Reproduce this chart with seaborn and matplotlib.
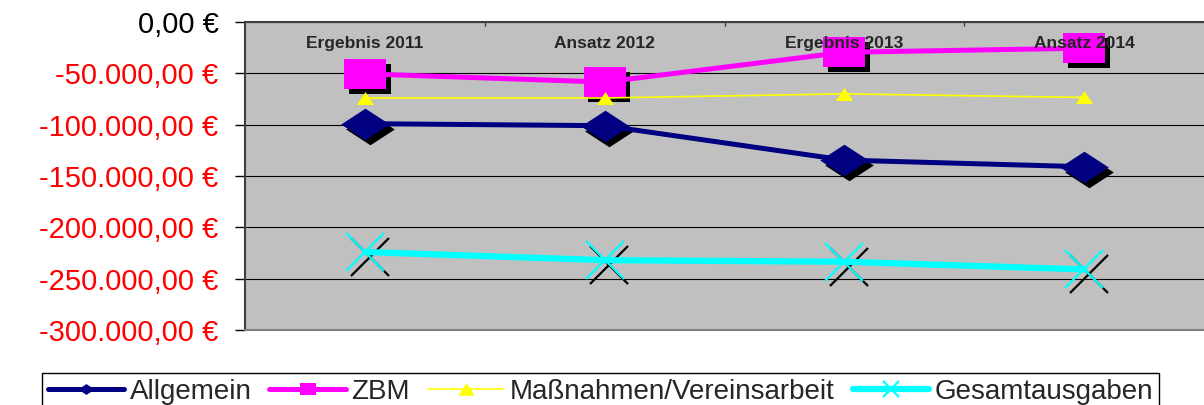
import numpy as np
import matplotlib
matplotlib.use("Agg")
import matplotlib.pyplot as plt
import matplotlib.transforms as mtransforms
import seaborn as sns

# Daten
kategorien = ["Ergebnis 2011", "Ansatz 2012", "Ergebnis 2013", "Ansatz 2014"]
allgemein = [-99000, -101000, -134500, -141000]
zbm = [-50500, -58500, -29500, -25500]
massnahmen = [-74000, -74000, -70000, -73500]
gesamtausgaben = [-224000, -232000, -233500, -241000]

y_ticks = [0, -50000, -100000, -150000, -200000, -250000, -300000]

sns.set_theme(style="white")
plt.rcParams["font.family"] = ["Liberation Sans", "DejaVu Sans"]

fig = plt.figure(figsize=(12.04, 4.05), dpi=100)
ax = fig.add_axes([245 / 1204, 1 - 330 / 405, 1 - 245 / 1204, 308 / 405])
ax.set_facecolor("#C0C0C0")

# Marker-Formen (breiter als hoch wie im Original)
raute = [(-1, 0), (0, 0.65), (1, 0), (0, -0.65), (-1, 0)]
quadrat = [(-1, -0.74), (1, -0.74), (1, 0.74), (-1, 0.74), (-1, -0.74)]
dreieck = [(-1, -0.75), (1, -0.75), (0, 0.75), (-1, -0.75)]

serien = [
    ("Allgemein", allgemein, "#000080", 3.6, raute, 35, True),
    ("ZBM", zbm, "#FF00FF", 3.6, quadrat, 30, True),
    ("Maßnahmen/Vereinsarbeit", massnahmen, "#FFFF00", 1.2, dreieck, 12.5, False),
    ("Gesamtausgaben", gesamtausgaben, "#00FFFF", 4.5, "x", 27, True),
]

# Schatten der Marker
schatten = ax.transData + mtransforms.ScaledTranslation(3.5 / 72, -3.5 / 72, fig.dpi_scale_trans)
for name, werte, farbe, lw, marker, ms, hat_schatten in serien:
    if not hat_schatten:
        continue
    sns.lineplot(x=kategorien, y=werte, ax=ax, color="black", lw=0, marker=marker,
                 ms=ms, mew=1.6 if marker == "x" else 0, mec="black",
                 transform=schatten, legend=False, sort=False, zorder=2)

for name, werte, farbe, lw, marker, ms, hat_schatten in serien:
    sns.lineplot(x=kategorien, y=werte, ax=ax, color=farbe, lw=lw, marker=marker,
                 ms=ms, mew=1.6 if marker == "x" else 0, mec=farbe,
                 label=name, sort=False, zorder=3)

ax.set_xlim(-0.5, 3.5)
ax.set_ylim(-300000, 0)

def euro(v):
    s = f"{v:,.2f}".replace(",", "X").replace(".", ",").replace("X", ".")
    return s + " €"

ax.set_yticks(y_ticks, labels=[euro(v) for v in y_ticks])
for t, v in zip(ax.get_yticklabels(), y_ticks):
    t.set_color("black" if v == 0 else "red")
ax.tick_params(axis="y", left=True, length=7, width=1, color="black", pad=12, labelsize=21)
ax.yaxis.grid(True, color="black", lw=0.8)
ax.set_axisbelow(True)

# Kategorien oben im Diagramm (Text liegt über den Markern)
ax.xaxis.tick_top()
ax.set_xticks(range(len(kategorien)), labels=kategorien)
ax.set_xticks([0.5, 1.5, 2.5], minor=True)
ax.tick_params(axis="x", which="major", length=0, pad=-21, labelsize=12.5)
ax.tick_params(axis="x", which="minor", top=True, direction="in", length=3, color="#404040")
for t in ax.get_xticklabels():
    t.set_fontweight("bold")
ax.xaxis.set_zorder(5)
ax.set_xlabel("")
ax.set_ylabel("")

for s in ["left", "top"]:
    ax.spines[s].set_color("#404040")
    ax.spines[s].set_linewidth(1.5)
ax.spines["bottom"].set_color("#808080")
ax.spines["bottom"].set_linewidth(1.5)
ax.spines["right"].set_visible(False)

handles, labels = ax.get_legend_handles_labels()
ax.legend_.remove()
leg = fig.legend(handles, labels, loc="upper left",
                 bbox_to_anchor=(42 / 1204, 1 - 373 / 405),
                 ncol=4, fontsize=20, frameon=True, fancybox=False,
                 edgecolor="black", framealpha=1, handlelength=2.75, handletextpad=0.2,
                 columnspacing=0.65, borderpad=0.2, borderaxespad=0)
leg.get_frame().set_linewidth(1)
for h in leg.legend_handles:
    h.set_markersize(12)

fig.savefig("out.png", dpi=100)
